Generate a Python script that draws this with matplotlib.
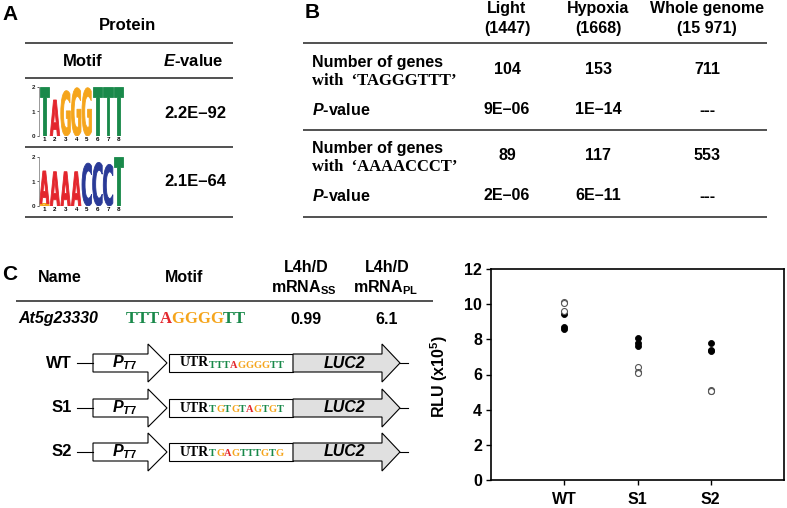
import numpy as np
import matplotlib
matplotlib.use("Agg")
import matplotlib.pyplot as plt
from matplotlib.patches import Polygon, Rectangle, PathPatch
from matplotlib.textpath import TextPath
from matplotlib.font_manager import FontProperties
from matplotlib.transforms import Affine2D

plt.rcParams['font.family'] = ['Liberation Sans', 'DejaVu Sans']
plt.rcParams['font.weight'] = 'bold'
plt.rcParams['axes.labelweight'] = 'bold'
plt.rcParams['mathtext.fontset'] = 'custom'
plt.rcParams['mathtext.rm'] = 'Liberation Sans:bold'
plt.rcParams['mathtext.it'] = 'Liberation Sans:italic:bold'
plt.rcParams['mathtext.bf'] = 'Liberation Sans:bold'

# Panel A: motif logos (bits per position) and E-values
logo1_letters = list('TAGGGTTT')
logo1_bits = [2.0, 1.47, 1.85, 1.97, 1.97, 2.0, 2.0, 2.0]
logo2_letters = list('AAAACCCT')
logo2_bits = [1.33, 1.4, 1.4, 1.4, 1.75, 1.78, 1.7, 2.0]
logo2_base_letter = 'G'   # small G under the first A
logo2_base_bits = 0.1
e_values = ['2.2E\u201392', '2.1E\u201364']

# Panel B: motif counts table
b_groups = ['Light', 'Hypoxia', 'Whole genome']
b_group_sizes = ['(1447)', '(1668)', '(15 971)']
b_motifs = ['TAGGGTTT', 'AAAACCCT']
b_counts = [['104', '153', '711'], ['89', '117', '553']]
b_pvalues = [['9E\u201306', '1E\u201314', '---'], ['2E\u201306', '6E\u201311', '---']]

# Panel C: gene, constructs and RLU values
gene_name = 'At5g23330'
gene_motif = 'TTTAGGGGTT'
gene_ratio_ss = '0.99'
gene_ratio_pl = '6.1'
constructs = ['WT', 'S1', 'S2']
construct_seqs = ['TTTAGGGGTT', 'TGTGTAGTGT', 'TGAGTTTGTG']

rlu_groups = ['WT', 'S1', 'S2']
rlu_filled = [[9.45, 8.7, 8.6], [8.05, 7.8, 7.6], [7.8, 7.4, 7.33]]
rlu_open = [[10.15, 10.05, 9.6], [6.4, 6.12, 6.1], [5.1, 5.08, 5.05]]

base_colors = {'T': '#19894a', 'A': '#e3262d', 'G': '#f5a51c', 'C': '#2a3a97'}

W, H = 787, 508
fig = plt.figure(figsize=(W / 100, H / 100), dpi=100)

# pixel-coordinate canvas for the tables and diagrams
ax0 = fig.add_axes([0, 0, 1, 1])
ax0.set_xlim(0, W)
ax0.set_ylim(H, 0)
ax0.axis('off')


def px_axes(left, top, right, bottom):
    return fig.add_axes([left / W, 1 - bottom / H, (right - left) / W, (bottom - top) / H])


def txt(x, y, s, size=11.5, ha='center', **kw):
    return ax0.text(x, y, s, fontsize=size, ha=ha, va='center', weight='bold', **kw)


def hline(y, x0, x1):
    ax0.plot([x0, x1], [y, y], color='#333333', lw=1.2, solid_capstyle='butt')


def colored_seq(x, y, seq, size, prev=None):
    # letters chained one after the other so each can get its own colour
    props = dict(fontsize=size, family='Liberation Serif', weight='bold')
    start = 0
    if prev is None:
        prev = ax0.text(x, y, seq[0], color=base_colors[seq[0]], ha='left', va='center', **props)
        start = 1
    for ch in seq[start:]:
        prev = ax0.annotate(ch, xy=(1, 0), xycoords=prev, ha='left', va='bottom',
                            color=base_colors[ch], **props)
    return prev


logo_font = FontProperties(family='DejaVu Sans', weight='bold')


def draw_logo(ax, columns):
    for i, stack in enumerate(columns):
        y0 = 0
        for letter, h in stack:
            tp = TextPath((0, 0), letter, size=1, prop=logo_font)
            bb = tp.get_extents()
            tr = (Affine2D().translate(-bb.x0, -bb.y0)
                  .scale(0.9 / bb.width, h / bb.height)
                  .translate(i + 1 - 0.45, y0))
            ax.add_patch(PathPatch(tr.transform_path(tp), fc=base_colors[letter],
                                   ec=base_colors[letter], lw=0.6, joinstyle='miter'))
            y0 += h
    ax.set_xlim(0.5, 8.5)
    ax.set_ylim(0, 2)
    for s in ['top', 'right', 'bottom']:
        ax.spines[s].set_visible(False)
    ax.spines['left'].set_linewidth(0.6)
    ax.spines['left'].set_color('#888888')
    ax.set_yticks([0, 1, 2])
    ax.set_xticks(range(1, 9))
    ax.tick_params(axis='y', labelsize=4.5, length=1.5, width=0.5, pad=1, colors='#222222')
    ax.tick_params(axis='x', labelsize=4.5, length=0, pad=1)
    ax.patch.set_alpha(0)


# ---------------- Panel A ----------------
txt(10, 14, 'A', size=15)
txt(128, 25, 'Protein', size=12)
for y in [43, 78, 147, 217]:
    hline(y, 25, 233)
txt(83, 61, 'Motif', size=12)
txt(193, 61, r'$\mathit{E}$-value', size=12)
txt(195, 113, e_values[0], size=12)
txt(195, 182, e_values[1], size=12)

logo1_cols = [[(l, b)] for l, b in zip(logo1_letters, logo1_bits)]
logo2_cols = [[(l, b)] for l, b in zip(logo2_letters, logo2_bits)]
logo2_cols[0].insert(0, (logo2_base_letter, logo2_base_bits))
draw_logo(px_axes(39, 87, 124, 136), logo1_cols)
draw_logo(px_axes(39, 157, 124, 206), logo2_cols)

# ---------------- Panel B ----------------
txt(312, 13, 'B', size=15)
col_x = [507, 598, 707]
for x, g, n in zip(col_x, b_groups, b_group_sizes):
    txt(x, 9, g)
    txt(x, 28, n)
for y in [43, 130, 217]:
    hline(y, 303, 767)
block_top = [63, 149]
for k in range(2):
    y = block_top[k]
    txt(312, y, 'Number of genes', ha='left')
    txt(312, y + 18, 'with  \u2018' + b_motifs[k] + '\u2019', size=12, ha='left',
        family='Liberation Serif')
    for x, c, p in zip(col_x, b_counts[k], b_pvalues[k]):
        txt(x, y + 6, c)
        txt(x, y + 47, p)
    txt(312, y + 47, r'$\mathit{P}$-value', ha='left')

# ---------------- Panel C ----------------
txt(10, 274, 'C', size=15)
txt(60, 278, 'Name')
txt(184, 278, 'Motif')
txt(306, 268, 'L4h/D')
txt(304, 288, r'mRNA$_{\mathrm{SS}}$')
txt(387, 268, 'L4h/D')
txt(385, 288, r'mRNA$_{\mathrm{PL}}$')
hline(301, 16, 433)
txt(18, 319, gene_name, ha='left', style='italic')
colored_seq(126, 319, gene_motif, 12)
txt(306, 319, gene_ratio_ss)
txt(387, 319, gene_ratio_pl)

row_y = [363, 408, 452]
for label, seq, y in zip(constructs, construct_seqs, row_y):
    txt(72, y, label, size=12, ha='right')
    ax0.plot([77, 93], [y, y], color='k', lw=0.8)
    ax0.add_patch(Polygon([(93, y - 9), (148, y - 9), (148, y - 19), (167, y),
                           (148, y + 19), (148, y + 9), (93, y + 9)],
                          closed=True, fc='white', ec='k', lw=0.8))
    txt(125, y, r'$\mathit{P}_{\mathit{T7}}$', size=11.5)
    ax0.add_patch(Rectangle((169, y - 9), 124, 18, fc='white', ec='k', lw=0.8))
    utr = txt(180, y, 'UTR', size=10, ha='left', family='Liberation Serif')
    colored_seq(0, 0, seq, 7.5, prev=utr)
    ax0.add_patch(Polygon([(293, y - 9), (382, y - 9), (382, y - 19), (400, y),
                           (382, y + 19), (382, y + 9), (293, y + 9)],
                          closed=True, fc='#e0e0e0', ec='k', lw=0.8))
    txt(345, y, 'LUC2', size=11.5, style='italic')
    ax0.plot([400, 408], [y, y], color='k', lw=0.8)

# RLU scatter
axr = px_axes(491, 269, 784, 480)
for i, (f, o) in enumerate(zip(rlu_filled, rlu_open)):
    axr.plot([i + 1] * len(f), f, 'o', color='black', ms=4.3, mew=0.6)
    axr.plot([i + 1] * len(o), o, 'o', mfc='white', mec='#555555', ms=4.3, mew=0.8)
axr.set_xlim(0, 4)
axr.set_ylim(0, 12)
axr.set_xticks([1, 2, 3])
axr.set_xticklabels(rlu_groups, fontweight='bold')
axr.set_yticks(range(0, 13, 2))
axr.set_yticklabels([str(v) for v in range(0, 13, 2)], fontweight='bold')
for s in axr.spines.values():
    s.set_linewidth(1.2)
axr.tick_params(axis='both', direction='out', length=3.5, width=1, labelsize=11.5)
axr.tick_params(axis='y', pad=3)
axr.tick_params(axis='x', pad=5)
axr.set_ylabel(r'RLU (x10$^{5}$)', fontsize=11.5, fontweight='bold')
axr.yaxis.set_label_coords(-0.14, 0.49)

fig.savefig('out.png', dpi=100)
